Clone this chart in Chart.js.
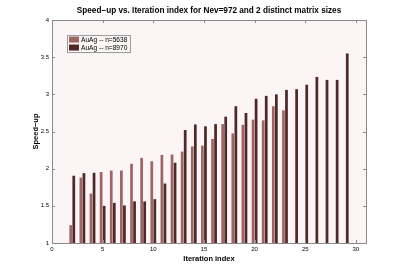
<!DOCTYPE html>
<html>
<head>
<meta charset="utf-8">
<script src="https://cdn.jsdelivr.net/npm/chart.js@4"></script>
<style>
  html, body { margin: 0; padding: 0; background: #fff; }
  #wrap { position: relative; width: 405px; height: 273px; }
</style>
</head>
<body>
<div id="wrap"><canvas id="chart"></canvas></div>
<script>
const iterSmall = [2, 3, 4, 5, 6, 7, 8, 9, 10, 11, 12, 13, 14, 15, 16, 17, 18, 19, 20, 21, 22, 23];
const speedupSmall = [1.24, 1.88, 1.665, 1.955, 1.975, 1.975, 2.065, 2.145, 2.10, 2.185, 2.19, 2.23, 2.30, 2.31, 2.40, 2.60, 2.475, 2.59, 2.66, 2.65, 2.84, 2.785];
const iterLarge = [2, 3, 4, 5, 6, 7, 8, 9, 10, 11, 12, 13, 14, 15, 16, 17, 18, 19, 20, 21, 22, 23, 24, 25, 26, 27, 28, 29];
const speedupLarge = [1.905, 1.94, 1.945, 1.50, 1.54, 1.505, 1.56, 1.56, 1.59, 1.80, 2.08, 2.52, 2.595, 2.57, 2.60, 2.70, 2.84, 2.75, 2.94, 2.98, 3.00, 3.06, 3.07, 3.13, 3.235, 3.195, 3.195, 3.55];
const seriesNames = ["AuAg -- n=5638", "AuAg -- n=8970"];
const xTicks = [0, 5, 10, 15, 20, 25, 30];

const FONT = "'Liberation Sans', Arial, Helvetica, sans-serif";

// plot background, inward ticks on all sides and the box, matlab style
const axesBox = {
  id: "axesBox",
  beforeDatasetsDraw(chart) {
    const { ctx, chartArea: a } = chart;
    ctx.save();
    ctx.fillStyle = "#fbf6f5";
    ctx.fillRect(a.left, a.top, a.right - a.left, a.bottom - a.top);
    ctx.restore();
  },
  afterDraw(chart) {
    const { ctx, chartArea: a, scales } = chart;
    const len = 3;
    ctx.save();
    ctx.strokeStyle = "#8a8a8a";
    ctx.lineWidth = 1;
    ctx.beginPath();
    scales.x.ticks.forEach(t => {
      const px = Math.round(scales.x.getPixelForValue(t.value)) + 0.5;
      ctx.moveTo(px, a.bottom); ctx.lineTo(px, a.bottom - len);
      ctx.moveTo(px, a.top); ctx.lineTo(px, a.top + len);
    });
    scales.y.ticks.forEach(t => {
      const py = Math.round(scales.y.getPixelForValue(t.value)) + 0.5;
      ctx.moveTo(a.left, py); ctx.lineTo(a.left + len, py);
      ctx.moveTo(a.right, py); ctx.lineTo(a.right - len, py);
    });
    ctx.stroke();
    ctx.strokeRect(Math.round(a.left) + 0.5, Math.round(a.top) + 0.5,
      Math.round(a.right - a.left), Math.round(a.bottom - a.top));
    ctx.restore();
  }
};

// legend box in the upper left of the axes
const innerLegend = {
  id: "innerLegend",
  afterDraw(chart) {
    const { ctx, chartArea: a } = chart;
    const x0 = a.left + 15, y0 = a.top + 15, w = 63, h = 17;
    ctx.save();
    ctx.fillStyle = "#fbf6f5";
    ctx.fillRect(x0, y0, w, h);
    ctx.strokeStyle = "#9a9a9a";
    ctx.lineWidth = 1;
    ctx.strokeRect(x0 + 0.5, y0 + 0.5, w, h);
    ctx.font = "6.6px " + FONT;
    ctx.textBaseline = "middle";
    chart.data.datasets.forEach((ds, i) => {
      const cy = y0 + 4.5 + i * 8;
      ctx.fillStyle = ds.backgroundColor;
      ctx.fillRect(x0 + 2, cy - 3, 10, 6);
      ctx.fillStyle = "#000";
      ctx.fillText(ds.label, x0 + 14, cy + 0.5);
    });
    ctx.restore();
  }
};

new Chart(document.getElementById("chart"), {
  type: "bar",
  data: {
    datasets: [
      {
        label: seriesNames[0],
        data: iterSmall.map((x, i) => ({ x: x, y: speedupSmall[i] })),
        backgroundColor: "#9f6464",
        categoryPercentage: 0.6,
        barPercentage: 0.9
      },
      {
        label: seriesNames[1],
        data: iterLarge.map((x, i) => ({ x: x, y: speedupLarge[i] })),
        backgroundColor: "#4f2828",
        categoryPercentage: 0.6,
        barPercentage: 0.9
      }
    ]
  },
  options: {
    responsive: true,
    maintainAspectRatio: false,
    animation: false,
    layout: { padding: { left: 0, right: 39, top: 0, bottom: 0 } },
    plugins: {
      legend: { display: false },
      tooltip: { enabled: false },
      title: {
        display: true,
        fullSize: false,
        text: "Speed\u2212up vs. Iteration index for Nev=972 and 2 distinct matrix sizes",
        color: "#000",
        font: { family: FONT, size: 8.2, weight: "bold", lineHeight: 1.2 },
        padding: { top: 5.5, bottom: 4.7 }
      }
    },
    scales: {
      x: {
        type: "linear",
        offset: false,
        min: 0,
        max: 31,
        grid: { display: false, drawTicks: false, offset: false },
        border: { display: false },
        afterBuildTicks: s => { s.ticks = xTicks.map(v => ({ value: v })); },
        afterFit: s => { s.height = 30; },
        ticks: {
          color: "#000",
          padding: 2.5,
          maxRotation: 0,
          font: { family: FONT, size: 6 },
          callback: v => String(v)
        },
        title: {
          display: true,
          text: "Iteration index",
          color: "#000",
          font: { family: FONT, size: 7.5, weight: "bold", lineHeight: 1.2 },
          padding: { top: 0, bottom: 9.5 }
        }
      },
      y: {
        min: 1,
        max: 4,
        grid: { display: false, drawTicks: false },
        border: { display: false },
        afterFit: s => { s.width = 52; },
        ticks: {
          stepSize: 0.5,
          color: "#000",
          padding: 3,
          font: { family: FONT, size: 6 },
          callback: v => String(v)
        },
        title: {
          display: true,
          text: "Speed\u2212up",
          color: "#000",
          font: { family: FONT, size: 7.5, weight: "bold", lineHeight: 1.2 },
          padding: { top: 31, bottom: 0 }
        }
      }
    }
  },
  plugins: [axesBox, innerLegend]
});
</script>
</body>
</html>
